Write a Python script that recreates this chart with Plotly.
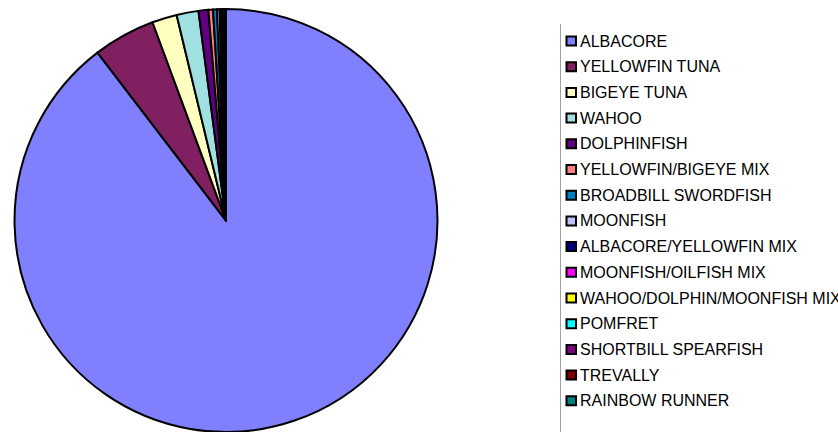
import plotly.graph_objects as go

# Catch composition by species (percent of total)
species = [
    "ALBACORE", "YELLOWFIN TUNA", "BIGEYE TUNA", "WAHOO", "DOLPHINFISH",
    "YELLOWFIN/BIGEYE MIX", "BROADBILL SWORDFISH", "MOONFISH",
    "ALBACORE/YELLOWFIN MIX", "MOONFISH/OILFISH MIX",
    "WAHOO/DOLPHIN/MOONFISH MIX", "POMFRET", "SHORTBILL SPEARFISH",
    "TREVALLY", "RAINBOW RUNNER",
]
share = [89.6, 4.75, 1.9, 1.67, 0.75, 0.35, 0.3, 0.2, 0.15, 0.1,
         0.08, 0.06, 0.04, 0.03, 0.02]
colors = [
    "#8080FF", "#802060", "#FFFFC0", "#A0E0E0", "#600080", "#FF8080",
    "#0080C0", "#C0C0FF", "#000080", "#FF00FF", "#FFFF00", "#00FFFF",
    "#800080", "#800000", "#008080",
]

W, H = 838, 432

fig = go.Figure(go.Pie(
    labels=species,
    values=share,
    sort=False,
    direction="clockwise",
    rotation=0,
    marker=dict(colors=colors, line=dict(color="black", width=2)),
    textinfo="none",
    hoverinfo="label+percent",
    showlegend=False,
    domain=dict(x=[13 / W, 439 / W], y=[0, 0.979]),
))

# Hand-built legend: frame edge, then swatch + label per species
shapes = [dict(
    type="line", xref="paper", yref="paper",
    x0=560.5 / W, x1=560.5 / W, y0=0, y1=1 - 24 / H,
    line=dict(color="#A0A0A0", width=1),
)]
annotations = []
row0, step = 41, 25.7
for i, (name, col) in enumerate(zip(species, colors)):
    cy = row0 + i * step
    shapes.append(dict(
        type="rect", xref="paper", yref="paper",
        x0=566.5 / W, x1=576 / W,
        y0=1 - (cy - 4.5) / H, y1=1 - (cy + 4.5) / H,
        fillcolor=col, line=dict(color="black", width=2),
    ))
    annotations.append(dict(
        text=name, xref="paper", yref="paper",
        x=578 / W, y=1 - cy / H, xanchor="left", yanchor="middle",
        showarrow=False,
        font=dict(family="Liberation Sans, Arial, sans-serif", size=16, color="black"),
    ))

fig.update_layout(
    width=W, height=H,
    margin=dict(l=0, r=0, t=0, b=0),
    paper_bgcolor="white",
    plot_bgcolor="white",
    shapes=shapes,
    annotations=annotations,
)

fig.write_html("out.html")
